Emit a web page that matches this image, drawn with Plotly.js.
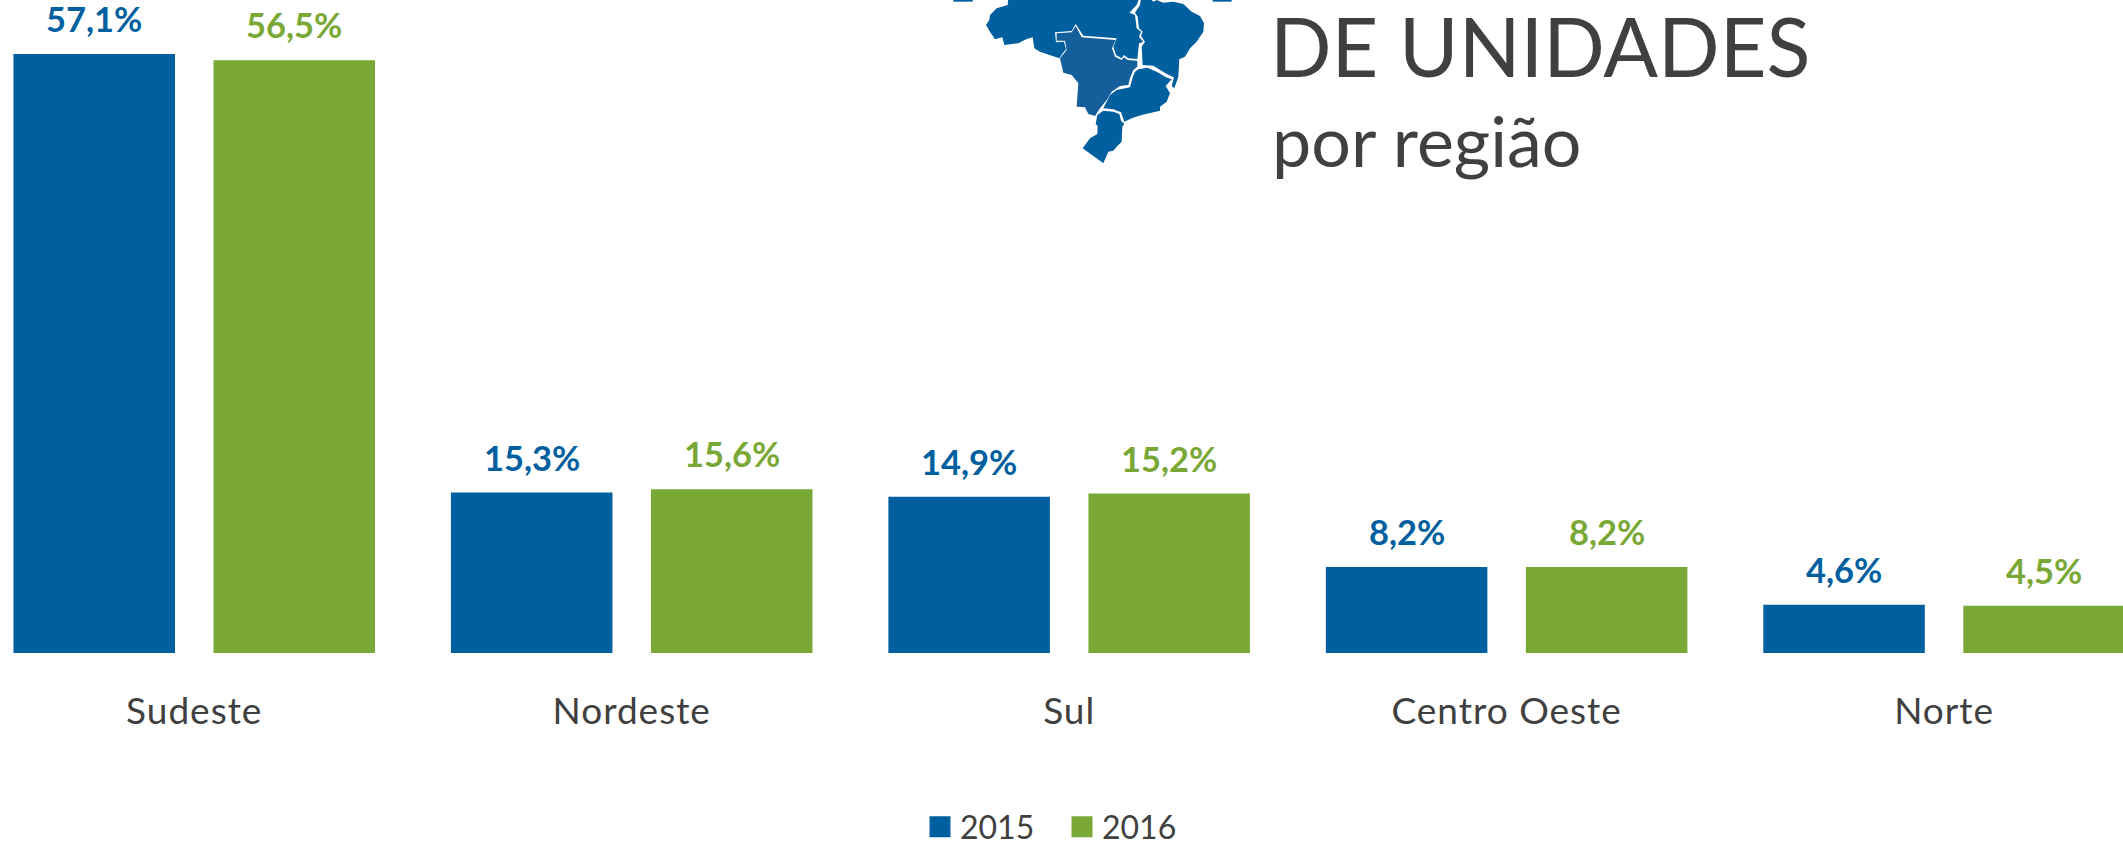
<!DOCTYPE html>
<html>
<head>
<meta charset="utf-8">
<script src="https://cdn.plot.ly/plotly-3.0.1.min.js"></script>
<style>
html,body{margin:0;padding:0;background:#fff;overflow:hidden}
#chart .legend .legendpoints path{transform:translate(20px,0) scale(1.75)}
#chart .xtick text{letter-spacing:1px}
</style>
</head>
<body>
<div id="chart" style="width:2123px;height:843px"></div>
<script>
const categories = ["Sudeste", "Nordeste", "Sul", "Centro Oeste", "Norte"];
const values2015 = [57.1, 15.3, 14.9, 8.2, 4.6];
const values2016 = [56.5, 15.6, 15.2, 8.2, 4.5];
const seriesNames = ["2015", "2016"];
const titleMain = "DE UNIDADES";
const titleSub = "por região";

const BLUE = "#005F9F", GREEN = "#7AA836", TEXT = "#404040", MID = "#155E9C";
const FONT = "Lato, 'Noto Sans', sans-serif";
const W = 2123, H = 843, PLOT_H = 653;
const fmt = v => v.toFixed(1).replace(".", ",") + "%";

// decorative map of Brazil (outline, in crop pixels)
const mapNorte = [[205,-4],[203,15],[170,25],[150,45],[148,60],[138,75],[150,95],[165,118],[187,112],[193,135],[235,130],[260,117],[278,112],[283,145],[300,155],[358,175],[368,160],[378,148],[372,125],[348,127],[345,97],[395,93],[407,72],[430,107],[530,115],[520,140],[528,165],[545,175],[552,165],[565,175],[592,177],[597,130],[610,125],[597,110],[603,95],[590,85],[585,45],[568,38],[590,15],[597,-4]];
const mapNordeste = [[603,-4],[600,15],[585,38],[593,50],[597,85],[608,95],[603,108],[615,125],[605,140],[608,195],[640,197],[680,222],[702,232],[695,258],[703,265],[715,230],[718,178],[735,170],[750,145],[770,125],[790,95],[792,70],[780,48],[755,35],[730,12],[700,5],[670,8],[650,0],[640,5],[632,-4]];
const mapCentro = [[350,100],[395,97],[407,78],[425,112],[527,120],[516,145],[525,170],[545,180],[552,172],[563,180],[592,182],[592,200],[580,210],[570,235],[565,255],[540,258],[515,275],[500,300],[480,325],[465,348],[445,342],[435,322],[410,320],[415,250],[395,225],[370,218],[360,175],[380,150],[375,122],[350,122]];
const mapSudeste = [[595,208],[622,203],[650,215],[678,232],[695,238],[677,258],[690,280],[680,305],[660,320],[660,332],[605,345],[575,355],[553,365],[543,337],[520,328],[490,325],[510,285],[530,270],[570,262],[578,232],[585,215]];
const mapSul = [[490,332],[520,335],[538,342],[543,362],[553,372],[547,380],[545,425],[530,440],[520,452],[505,455],[490,490],[428,445],[450,415],[472,402],[473,378],[467,372],[472,345]];
const mapTickL = [[40,-4],[98,-4],[98,5],[40,5]];
const mapTickR = [[818,-4],[875,-4],[875,5],[818,5]];

const toPath = pts => "M" + pts.map(([zx, zy]) => {
  const px = 940 + zx / 3, py = zy / 3;
  return (px / W).toFixed(5) + "," + (1 - py / PLOT_H).toFixed(5);
}).join("L") + "Z";
const mapShape = (pts, color) => ({type: "path", xref: "paper", yref: "paper", path: toPath(pts), fillcolor: color, line: {width: 0}, layer: "above"});

const slot = 200 / 437.4;
const labelAnn = (vals, color, side) => vals.map((v, i) => ({
  xref: "x", yref: "y", x: i + side * slot / 2, y: v, text: fmt(v), showarrow: false,
  xanchor: "center", yanchor: "bottom", yshift: 13,
  font: {family: FONT, size: 34.5, color: color, weight: 700}
}));

const data = [
  {type: "bar", name: seriesNames[0], x: categories, y: values2015, marker: {color: BLUE}, hoverinfo: "skip"},
  {type: "bar", name: seriesNames[1], x: categories, y: values2016, marker: {color: GREEN}, hoverinfo: "skip"}
];

const layout = {
  width: W, height: H,
  paper_bgcolor: "#fff", plot_bgcolor: "#fff",
  margin: {l: 0, r: 0, t: 0, b: H - PLOT_H, pad: 0, autoexpand: false},
  barmode: "group", bargap: 0.0855, bargroupgap: 0.1925,
  title: {text: titleMain, x: 1270 / W, xanchor: "left", xref: "paper", y: 1 - 49 / H, yanchor: "middle", yref: "container",
          font: {family: FONT, size: 81, color: TEXT}},
  xaxis: {type: "category", categoryorder: "array", categoryarray: categories, range: [-0.444, 4.409],
          showgrid: false, zeroline: false, showline: false, ticks: "", ticklabelstandoff: 33,
          tickfont: {family: FONT, size: 37, color: TEXT}},
  yaxis: {range: [0, PLOT_H / 10.49], visible: false, showgrid: false, zeroline: false},
  showlegend: true,
  legend: {orientation: "h", xref: "paper", x: 920 / W, xanchor: "left", yref: "container", y: 1 - 827 / H, yanchor: "middle",
           entrywidth: 97, entrywidthmode: "pixels", traceorder: "normal",
           font: {family: FONT, size: 32, color: TEXT}, bgcolor: "rgba(0,0,0,0)"},
  annotations: labelAnn(values2015, BLUE, -1).concat(labelAnn(values2016, GREEN, 1)).concat([
    {xref: "paper", yref: "paper", x: 1270 / W, y: 1 - 140 / PLOT_H, xanchor: "left", yanchor: "middle", showarrow: false,
     text: titleSub, font: {family: FONT, size: 70, color: TEXT}}
  ]),
  shapes: [mapShape(mapNorte, BLUE), mapShape(mapNordeste, BLUE), mapShape(mapCentro, MID), mapShape(mapSudeste, BLUE), mapShape(mapSul, BLUE), mapShape(mapTickL, BLUE), mapShape(mapTickR, BLUE)]
};

Plotly.newPlot("chart", data, layout, {displayModeBar: false, staticPlot: true});
</script>
</body>
</html>
